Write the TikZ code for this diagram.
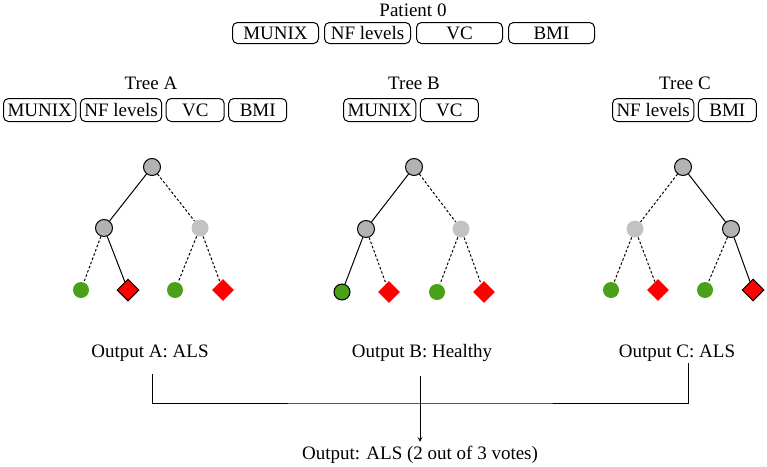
\documentclass[tikz,border=0pt]{standalone}
\usepackage{fontspec}
\setmainfont{Liberation Serif}
\usetikzlibrary{positioning,shapes.geometric}
\definecolor{splitgray}{RGB}{178,178,178}
\definecolor{idlegray}{RGB}{194,194,194}
\definecolor{leafgreen}{RGB}{74,160,22}
\definecolor{leafred}{RGB}{255,0,0}
\begin{document}
\begin{tikzpicture}[x=1pt, y=-1pt, >=stealth, line width=1pt, font=\fontsize{19}{23}\selectfont]
  \tikzset{feat/.style={draw, rounded corners=5pt, minimum height=23pt, minimum width=58pt, inner xsep=4pt, inner ysep=0pt},
    widefeat/.style={feat, minimum width=86pt, minimum height=21pt},
    split/.style={circle, draw, fill=splitgray, minimum size=17pt, inner sep=0pt},
    splitoff/.style={circle, fill=idlegray, minimum size=17pt, inner sep=0pt},
    leafok/.style={circle, fill=leafgreen, minimum size=16pt, inner sep=0pt},
    leafals/.style={diamond, fill=leafred, minimum size=22pt, inner sep=0pt},
    picked/.style={draw},
    offpath/.style={dash pattern=on 2.5pt off 2pt}}
  \useasboundingbox (0,0) rectangle (767,466);

  % patient and features
  \node[anchor=base] (patient) at (413,16) {Patient 0};
  \node[widefeat, anchor=west] (pmunix) at (232,33) {MUNIX};
  \node[widefeat, right=5pt of pmunix] (pnf) {NF levels};
  \node[widefeat, right=5pt of pnf] (pvc) {VC};
  \node[widefeat, right=5pt of pvc] (pbmi) {BMI};

  % tree A
  \node[anchor=base] (treea) at (151,89) {Tree A};
  \node[feat, anchor=west] (amunix) at (3,110) {MUNIX};
  \node[feat, right=3.5pt of amunix] (anf) {NF levels};
  \node[feat, right=3.5pt of anf] (avc) {VC};
  \node[feat, right=3.5pt of avc] (abmi) {BMI};
  \node[split] (a0) at (152,167) {};
  \node[split] (a1) at (104,228) {};
  \node[splitoff] (a2) at (200,228) {};
  \node[leafok] (a3) at (81,290) {};
  \node[leafals, picked] (a4) at (128,290) {};
  \node[leafok] (a5) at (175,290) {};
  \node[leafals] (a6) at (223,290) {};
  \draw (a0) -- (a1);
  \draw[offpath] (a0) -- (a2);
  \draw[offpath] (a1) -- (a3);
  \draw (a1) -- (a4);
  \draw[offpath] (a2) -- (a5);
  \draw[offpath] (a2) -- (a6);

  % tree B
  \node[anchor=base] (treeb) at (414,89) {Tree B};
  \node[feat, anchor=west] (bmunix) at (343,110) {MUNIX};
  \node[feat, right=3.5pt of bmunix] (bvc) {VC};
  \node[split] (b0) at (414,167) {};
  \node[split] (b1) at (366,229) {};
  \node[splitoff] (b2) at (461,229) {};
  \node[leafok, picked] (b3) at (342,292) {};
  \node[leafals] (b4) at (389,292) {};
  \node[leafok] (b5) at (437,292) {};
  \node[leafals] (b6) at (484,292) {};
  \draw (b0) -- (b1);
  \draw[offpath] (b0) -- (b2);
  \draw (b1) -- (b3);
  \draw[offpath] (b1) -- (b4);
  \draw[offpath] (b2) -- (b5);
  \draw[offpath] (b2) -- (b6);

  % tree C
  \node[anchor=base] (treec) at (685,89) {Tree C};
  \node[feat, anchor=west] (cnf) at (612,110) {NF levels};
  \node[feat, right=3.5pt of cnf] (cbmi) {BMI};
  \node[split] (c0) at (683,167) {};
  \node[splitoff] (c1) at (635,229) {};
  \node[split] (c2) at (731,229) {};
  \node[leafok] (c3) at (611,290) {};
  \node[leafals] (c4) at (658,290) {};
  \node[leafok] (c5) at (705,290) {};
  \node[leafals, picked] (c6) at (753,290) {};
  \draw[offpath] (c0) -- (c1);
  \draw (c0) -- (c2);
  \draw[offpath] (c1) -- (c3);
  \draw[offpath] (c1) -- (c4);
  \draw[offpath] (c2) -- (c5);
  \draw (c2) -- (c6);

  % votes
  \node[anchor=base] (outa) at (150,357) {Output A: ALS};
  \node[anchor=base] (outb) at (422,357) {Output B: Healthy};
  \node[anchor=base] (outc) at (677,357) {Output C: ALS};
  \node[anchor=base] (final) at (420,459) {Output: ALS (2 out of 3 votes)};
  \coordinate (ta) at (152,374);
  \coordinate (tb) at (420,376);
  \coordinate (tc) at (688,363);
  \coordinate (bar) at (420,403);
  \draw (ta) |- (bar) -| (tc);
  \draw[->] (tb) -- (final);
\end{tikzpicture}
\end{document}
